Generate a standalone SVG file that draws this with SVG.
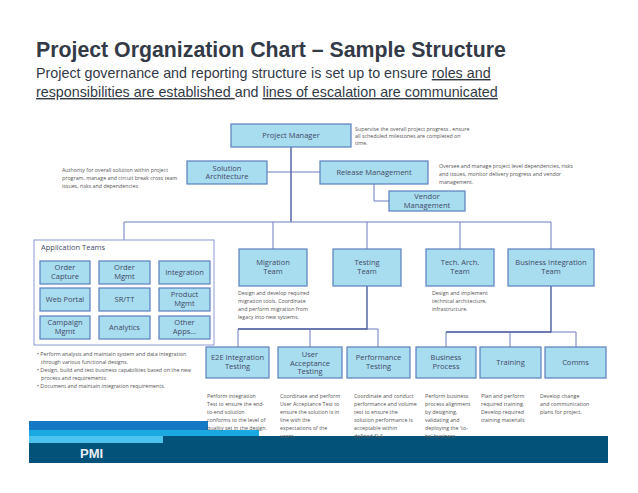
<svg xmlns="http://www.w3.org/2000/svg" width="638" height="493" viewBox="0 0 638 493">
<style>
.b{fill:#a8dcef;stroke:#5b7fbf;stroke-width:1.2}
.t{font-family:"Open Sans","Liberation Sans",sans-serif;font-size:7.5px;fill:#3f4a66;text-anchor:middle}
.d{font-family:"Open Sans","Liberation Sans",sans-serif;font-size:5.3px;fill:#555}
.c{fill:none;stroke:#6a7dc0;stroke-width:1}
.c2{fill:none;stroke:#3d4f9c;stroke-width:1.3}
</style>
<rect width="638" height="493" fill="#fff"/>
<text x="36" y="57" font-family="Liberation Sans,Arial,sans-serif" font-size="21.3" font-weight="bold" fill="#333a47">Project Organization Chart – Sample Structure</text>
<g font-family="Liberation Sans,Arial,sans-serif" font-size="14.3" fill="#333a47">
<text x="36" y="78">Project governance and reporting structure is set up to ensure <tspan text-decoration="underline">roles and</tspan></text>
<text x="36" y="97"><tspan text-decoration="underline">responsibilities are established </tspan>and <tspan text-decoration="underline">lines of escalation are communicated</tspan></text>
</g>
<g id="connectors">
<path class="c2" d="M291 147V222"/>
<path class="c" d="M124 240V222H551V249M273 222V249M367 222V249M460 222V249"/>
<path class="c" d="M267 172H320M374 184V201H389"/>
<path class="c2" d="M367 286V329H238"/>
<path class="c" d="M238 329V347M310 329V347M367 329H378V347"/>
<path class="c2" d="M551 286V332H446"/>
<path class="c" d="M446 332V347M510 332V347M551 332H576V347"/>
</g>
<g id="pm"><rect class="b" x="231" y="124" width="120" height="23"/><text class="t" x="291" y="138">Project Manager</text></g>
<text class="d" x="355" y="131">Supervise the overall project progress , ensure</text>
<text class="d" x="355" y="138">all scheduled milestones are completed on</text>
<text class="d" x="355" y="145">time.</text>
<g id="sa"><rect class="b" x="187" y="161" width="80" height="23"/><text class="t" x="227" y="170.5">Solution</text><text class="t" x="227" y="179">Architecture</text></g>
<text class="d" x="62" y="172">Authority for overall solution within project</text>
<text class="d" x="62" y="180">program, manage and circuit break cross team</text>
<text class="d" x="62" y="188">issues, risks and dependencies</text>
<g id="rm"><rect class="b" x="320" y="161" width="108" height="23"/><text class="t" x="374" y="175">Release Management</text></g>
<text class="d" x="439" y="168">Oversee and manage project level dependencies, risks</text>
<text class="d" x="439" y="176">and issues, monitor delivery progress and vendor</text>
<text class="d" x="439" y="184">management.</text>
<g id="vm"><rect class="b" x="389" y="191" width="76" height="20"/><text class="t" x="427" y="199">Vendor</text><text class="t" x="427" y="208">Management</text></g>
<g id="apps">
<rect x="34" y="240" width="180" height="105" fill="#fff" stroke="#8a9ad0" stroke-width="1"/>
<text class="t" x="41" y="250" style="text-anchor:start">Application Teams</text>
<rect class="b" x="40" y="261" width="50" height="23"/><text class="t" x="65" y="270">Order</text><text class="t" x="65" y="279">Capture</text>
<rect class="b" x="99" y="261" width="51" height="23"/><text class="t" x="124.5" y="270">Order</text><text class="t" x="124.5" y="279">Mgmt</text>
<rect class="b" x="159" y="261" width="51" height="23"/><text class="t" x="184.5" y="275">Integration</text>
<rect class="b" x="40" y="288" width="50" height="23"/><text class="t" x="65" y="302">Web Portal</text>
<rect class="b" x="99" y="288" width="51" height="23"/><text class="t" x="124.5" y="302">SR/TT</text>
<rect class="b" x="159" y="288" width="51" height="23"/><text class="t" x="184.5" y="297">Product</text><text class="t" x="184.5" y="306">Mgmt</text>
<rect class="b" x="40" y="316" width="50" height="23"/><text class="t" x="65" y="325">Campaign</text><text class="t" x="65" y="334">Mgmt</text>
<rect class="b" x="99" y="316" width="51" height="23"/><text class="t" x="124.5" y="330">Analytics</text>
<rect class="b" x="159" y="316" width="51" height="23"/><text class="t" x="184.5" y="325">Other</text><text class="t" x="184.5" y="334">Apps…</text>
</g>
<g class="d">
<text x="37" y="356">• Perform analysis and maintain system and data integration</text>
<text x="41" y="364">through various functional designs.</text>
<text x="37" y="372">• Design, build and test business capabilities based on the new</text>
<text x="41" y="380">process and requirements</text>
<text x="37" y="388">• Document and maintain integration requirements.</text>
</g>
<g id="mig"><rect class="b" x="239" y="249" width="68" height="37"/><text class="t" x="273" y="265">Migration</text><text class="t" x="273" y="274">Team</text></g>
<g class="d"><text x="238" y="295">Design and develop required</text><text x="238" y="303">migration tools. Coordinate</text><text x="238" y="311">and perform migration from</text><text x="238" y="319">legacy into new systems.</text></g>
<g id="test"><rect class="b" x="333" y="249" width="68" height="37"/><text class="t" x="367" y="265">Testing</text><text class="t" x="367" y="274">Team</text></g>
<g id="ta"><rect class="b" x="426" y="249" width="68" height="37"/><text class="t" x="460" y="265">Tech. Arch.</text><text class="t" x="460" y="274">Team</text></g>
<g class="d"><text x="432" y="295">Design and implement</text><text x="432" y="303">technical architecture,</text><text x="432" y="311">infrastructure.</text></g>
<g id="bi"><rect class="b" x="508" y="249" width="86" height="37"/><text class="t" x="551" y="265">Business Integration</text><text class="t" x="551" y="274">Team</text></g>
<g id="e2e"><rect class="b" x="206" y="347" width="63" height="31"/><text class="t" x="237.5" y="360">E2E Integration</text><text class="t" x="237.5" y="369">Testing</text></g>
<g id="uat"><rect class="b" x="278" y="347" width="64" height="31"/><text class="t" x="310" y="357">User</text><text class="t" x="310" y="365.5">Acceptance</text><text class="t" x="310" y="374">Testing</text></g>
<g id="perf"><rect class="b" x="347" y="347" width="63" height="31"/><text class="t" x="378.5" y="360">Performance</text><text class="t" x="378.5" y="369">Testing</text></g>
<g id="bp"><rect class="b" x="416" y="347" width="60" height="31"/><text class="t" x="446" y="360">Business</text><text class="t" x="446" y="369">Process</text></g>
<g id="tr"><rect class="b" x="480" y="347" width="61" height="31"/><text class="t" x="510.5" y="365">Training</text></g>
<g id="cm"><rect class="b" x="545" y="347" width="61" height="31"/><text class="t" x="575.5" y="365">Comms</text></g>
<g id="footer">
<rect x="29" y="421" width="179" height="10" fill="#1478c4"/>
<rect x="29" y="430" width="230" height="7" fill="#1aa9e0"/>
<rect x="29" y="436" width="134" height="8" fill="#4cc3ec"/>
<rect x="163" y="436" width="445" height="27" fill="#02527a"/>
<rect x="29" y="443" width="579" height="20" fill="#02527a"/>
<text x="80" y="458" font-family="Liberation Sans,Arial,sans-serif" font-size="13" font-weight="bold" fill="#e8eef4">PMI</text>
</g>
<g class="d">
<text x="207" y="398">Perform integration</text><text x="207" y="406">Test to ensure the end-</text><text x="207" y="414">to-end solution</text><text x="207" y="422">conforms to the level of</text><text x="207" y="430">quality set in the design.</text>
<text x="280" y="398">Coordinate and perform</text><text x="280" y="406">User Acceptance Test to</text><text x="280" y="414">ensure the solution is in</text><text x="280" y="422">line with the</text><text x="280" y="430">expectations of the</text><text x="280" y="438">users.</text>
<text x="354" y="398">Coordinate and conduct</text><text x="354" y="406">performance and volume</text><text x="354" y="414">test to ensure the</text><text x="354" y="422">solution performance is</text><text x="354" y="430">acceptable within</text><text x="354" y="438">defined SLA</text>
<text x="425" y="398">Perform business</text><text x="425" y="406">process alignment</text><text x="425" y="414">by designing,</text><text x="425" y="422">validating and</text><text x="425" y="430">deploying the 'to-</text><text x="425" y="438">be' business</text>
<text x="481" y="398">Plan and perform</text><text x="481" y="406">required training.</text><text x="481" y="414">Develop required</text><text x="481" y="422">training materials</text>
<text x="540" y="398">Develop change</text><text x="540" y="406">and communication</text><text x="540" y="414">plans for project.</text>
</g>
</svg>
